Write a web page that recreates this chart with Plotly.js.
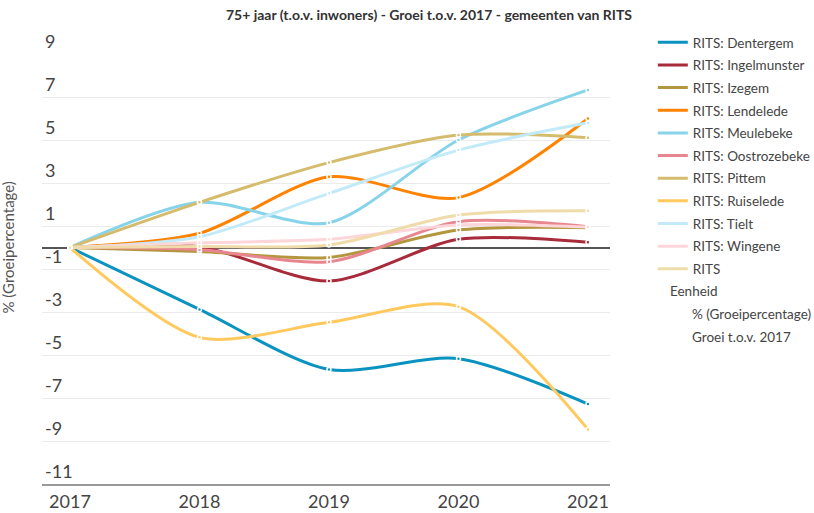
<!DOCTYPE html>
<html>
<head>
<meta charset="utf-8">
<script src="https://cdn.plot.ly/plotly-3.0.1.min.js"></script>
<style>html,body{margin:0;padding:0;background:#fff;}#chart{width:814px;height:513px;}</style>
</head>
<body>
<div id="chart"></div>
<script>
const years = [2017, 2018, 2019, 2020, 2021];
const seriesNames = ["RITS: Dentergem","RITS: Ingelmunster","RITS: Izegem","RITS: Lendelede","RITS: Meulebeke","RITS: Oostrozebeke","RITS: Pittem","RITS: Ruiselede","RITS: Tielt","RITS: Wingene","RITS"];
const dentergem    = [0, -2.88, -5.67, -5.17, -7.28];
const ingelmunster = [0, 0.04, -1.56, 0.38, 0.24];
const izegem       = [0, -0.19, -0.46, 0.81, 0.92];
const lendelede    = [0, 0.66, 3.29, 2.32, 6.0];
const meulebeke    = [0, 2.10, 1.15, 5.0, 7.33];
const oostrozebeke = [0, -0.1, -0.66, 1.2, 0.97];
const pittem       = [0, 2.10, 3.95, 5.23, 5.11];
const ruiselede    = [0, -4.18, -3.48, -2.75, -8.46];
const tielt        = [0, 0.50, 2.52, 4.53, 5.8];
const wingene      = [0, 0.22, 0.38, 1.05, 0.95];
const rits         = [0, 0.05, 0.12, 1.51, 1.71];
const seriesValues = [dentergem, ingelmunster, izegem, lendelede, meulebeke, oostrozebeke, pittem, ruiselede, tielt, wingene, rits];
const colors = ["#0a93c0","#a82b3b","#b3973f","#ff8200","#86d3ea","#e8868f","#d5bb6c","#ffc95e","#c2eaf8","#fdd6da","#f0dcaa"];
const yTicks = [9, 7, 5, 3, 1, -1, -3, -5, -7, -9, -11];
const FONT = "Lato, 'Noto Sans', sans-serif";

const lineTraces = seriesNames.map((n, i) => ({
  type: 'scatter', mode: 'lines', name: n, x: years, y: seriesValues[i],
  legendgroup: 'g' + i,
  line: {color: colors[i], width: 3, shape: 'spline', smoothing: 0.8},
  hoverinfo: 'x+y+name'
}));
const markerTraces = seriesNames.map((n, i) => ({
  type: 'scatter', mode: 'markers', name: n, x: years, y: seriesValues[i],
  legendgroup: 'g' + i, showlegend: false,
  marker: {color: colors[i], size: 4, line: {color: '#fff', width: 1.5}},
  hoverinfo: 'skip'
}));

const layout = {
  width: 814, height: 513,
  margin: {l: 42, r: 204, t: 54, b: 29},
  paper_bgcolor: '#fff', plot_bgcolor: '#fff',
  font: {family: FONT, color: '#444'},
  title: {text: '<b>75+ jaar (t.o.v. inwoners) - Groei t.o.v. 2017 - gemeenten van RITS</b>',
          x: 0.527, xanchor: 'center', y: 0.97, yanchor: 'middle', font: {family: FONT, size: 14, color: '#333'}},
  xaxis: {range: [2016.784, 2021.17], tickvals: years, ticktext: years.map(String), showgrid: false,
          showline: true, linecolor: '#999', linewidth: 2, zeroline: false, ticks: '',
          tickfont: {size: 18, color: '#444'}, fixedrange: true, automargin: false},
  yaxis: {range: [-11, 9], tickvals: yTicks, ticktext: yTicks.map(String), showgrid: true, gridcolor: '#ebebeb', gridwidth: 1,
          zeroline: true, zerolinecolor: '#555', zerolinewidth: 1.5, showline: false, ticks: '',
          ticklabelposition: 'inside top', ticklabeloverflow: 'allow',
          tickfont: {size: 18, color: '#444'}, fixedrange: true, automargin: false},
  legend: {xref: 'container', yref: 'container', x: 0.802, xanchor: 'left', y: 0.9473, yanchor: 'top',
           font: {size: 13.5, color: '#444', family: FONT}, maxheight: 1,
           tracegroupgap: 2.1, bgcolor: 'rgba(0,0,0,0)'},
  showlegend: true,
  annotations: [
    {text: '% (Groeipercentage)', xref: 'paper', yref: 'paper', x: 0, xshift: -34, y: 0.55, textangle: -90,
     showarrow: false, xanchor: 'center', yanchor: 'middle', font: {size: 15, color: '#555'}},
    {text: 'Eenheid', xref: 'paper', yref: 'paper', x: 1.102, xanchor: 'left', y: (484 - 291) / 430, yanchor: 'middle',
     showarrow: false, font: {size: 13.5, color: '#444'}},
    {text: '% (Groeipercentage)', xref: 'paper', yref: 'paper', x: 1.14, xanchor: 'left', y: (484 - 314) / 430, yanchor: 'middle',
     showarrow: false, font: {size: 13.5, color: '#444'}},
    {text: 'Groei t.o.v. 2017', xref: 'paper', yref: 'paper', x: 1.14, xanchor: 'left', y: (484 - 337) / 430, yanchor: 'middle',
     showarrow: false, font: {size: 13.5, color: '#444'}}
  ]
};

Plotly.newPlot('chart', lineTraces.concat(markerTraces), layout, {displayModeBar: false});
</script>
</body>
</html>
